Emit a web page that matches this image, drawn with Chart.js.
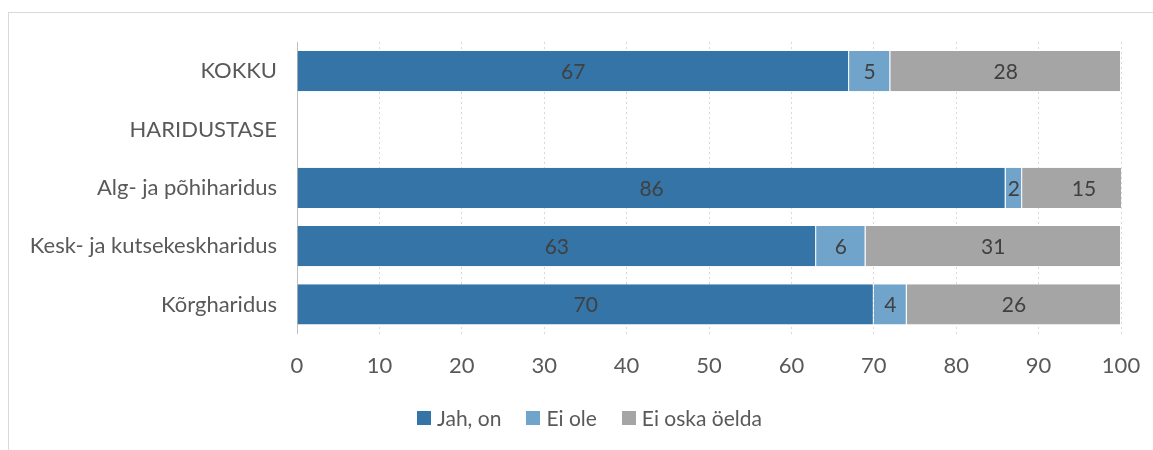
<!DOCTYPE html>
<html>
<head>
<meta charset="utf-8">
<script src="https://cdn.jsdelivr.net/npm/chart.js@4/dist/chart.umd.min.js"></script>
<style>
  html, body { margin: 0; padding: 0; background: #fff; }
  #wrap { position: relative; width: 1153px; height: 450px; overflow: hidden; }
  #frame { position: absolute; left: 8px; top: 12px; width: 1200px; height: 500px; border: 1px solid #d9d9d9; }
  canvas { position: absolute; left: 0; top: 0; }
  #legend { position: absolute; left: 417px; top: 405px; display: flex; align-items: center;
            font: 21px Lato, 'Open Sans', sans-serif; color: #595959; white-space: nowrap; }
  #legend .item { display: flex; align-items: center; margin-right: 25px; }
  #legend .box { width: 14px; height: 14px; margin-right: 6px; }
</style>
</head>
<body>
<div id="wrap">
  <div id="frame"></div>
  <canvas id="chart" width="1153" height="450"></canvas>
  <div id="legend"></div>
</div>
<script>
// data
const categories = ["KOKKU", "HARIDUSTASE", "Alg- ja põhiharidus", "Kesk- ja kutsekeskharidus", "Kõrgharidus"];
const jahOn = [67, null, 86, 63, 70];
const eiOle = [5, null, 2, 6, 4];
const eiOska = [28, null, 15, 31, 26];
const seriesNames = ["Jah, on", "Ei ole", "Ei oska öelda"];
const seriesColors = ["#3474a6", "#70a4cb", "#a5a5a5"];

const FONT = "Lato, 'Open Sans', sans-serif";

// values written in the middle of each segment
const barLabels = {
  id: "barLabels",
  afterDatasetsDraw(chart) {
    const ctx = chart.ctx;
    ctx.save();
    ctx.font = "21px " + FONT;
    ctx.fillStyle = "#404040";
    ctx.textAlign = "center";
    ctx.textBaseline = "middle";
    chart.data.datasets.forEach((ds, i) => {
      chart.getDatasetMeta(i).data.forEach((bar, j) => {
        const v = ds.data[j];
        if (v == null) return;
        ctx.fillText(String(v), (bar.x + bar.base) / 2, bar.y + 1);
      });
    });
    ctx.restore();
  },
};

const chart = new Chart(document.getElementById("chart"), {
  type: "bar",
  data: {
    labels: categories,
    datasets: [jahOn, eiOle, eiOska].map((d, i) => ({
      label: seriesNames[i],
      data: d,
      backgroundColor: seriesColors[i],
      borderColor: "rgba(255,255,255,0.45)",
      borderWidth: { left: 0, right: 1, top: 0, bottom: 0 },
      borderSkipped: false,
      barPercentage: 0.69,
      categoryPercentage: 1,
    })),
  },
  options: {
    indexAxis: "y",
    responsive: false,
    animation: false,
    layout: { padding: { top: 42, right: 32, left: 0, bottom: 52 } },
    scales: {
      x: {
        stacked: true,
        min: 0,
        max: 100,
        ticks: { stepSize: 10, color: "#595959", font: { family: FONT, size: 22 }, padding: 19 },
        grid: { color: "#d9d9d9", drawTicks: false },
        border: { display: false, dash: [2, 3] },
        afterFit(scale) { scale.paddingRight = 0; scale.paddingLeft = 0; },
      },
      y: {
        stacked: true,
        ticks: { color: "#595959", font: { family: FONT, size: 22 }, padding: 20 },
        grid: { display: false, drawTicks: false },
        border: { display: true, color: "#bfbfbf", width: 1 },
        afterFit(scale) { scale.width = 297; },
      },
    },
    plugins: {
      legend: { display: false },
      tooltip: { enabled: false },
    },
  },
  plugins: [barLabels],
});

// legend built from the chart's datasets
const legendEl = document.getElementById("legend");
chart.data.datasets.forEach((ds) => {
  const item = document.createElement("div");
  item.className = "item";
  const box = document.createElement("span");
  box.className = "box";
  box.style.background = ds.backgroundColor;
  item.appendChild(box);
  item.appendChild(document.createTextNode(ds.label));
  legendEl.appendChild(item);
});
</script>
</body>
</html>
